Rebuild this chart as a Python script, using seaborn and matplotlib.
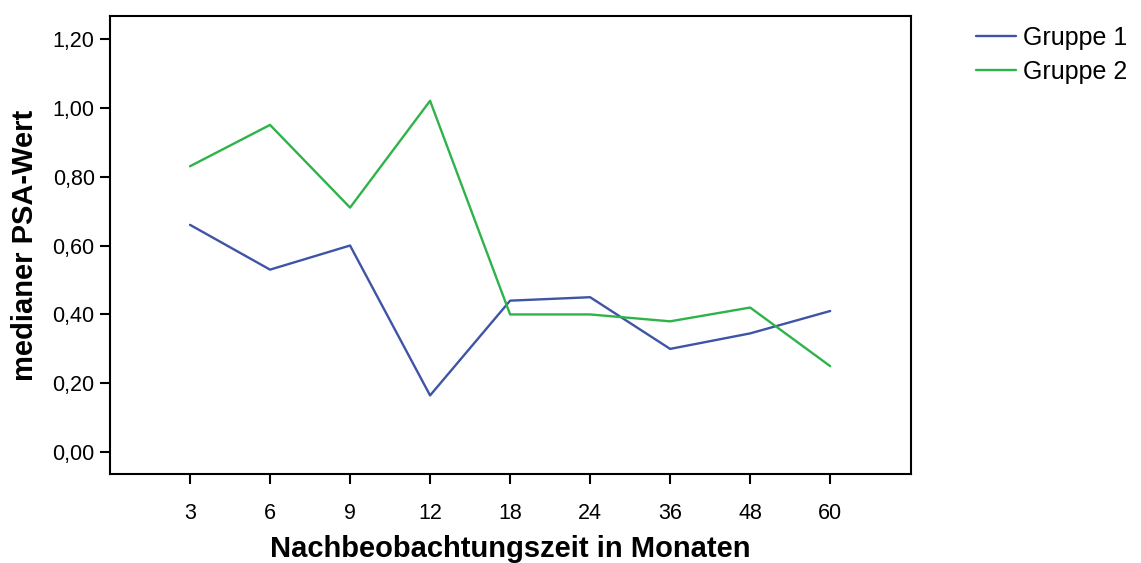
import matplotlib
matplotlib.use('Agg')
import matplotlib.pyplot as plt
import seaborn as sns
import pandas as pd

# Data
monate = ['3', '6', '9', '12', '18', '24', '36', '48', '60']
gruppe1 = [0.66, 0.53, 0.60, 0.165, 0.44, 0.45, 0.30, 0.345, 0.41]
gruppe2 = [0.83, 0.95, 0.71, 1.02, 0.40, 0.40, 0.38, 0.42, 0.25]

df = pd.DataFrame({
    'Monat': monate * 2,
    'Wert': gruppe1 + gruppe2,
    'Gruppe': ['Gruppe 1'] * len(monate) + ['Gruppe 2'] * len(monate),
})

sns.set_style('white')
plt.rcParams['font.family'] = ['Liberation Sans', 'DejaVu Sans']
plt.rcParams['text.color'] = 'black'
plt.rcParams['axes.labelcolor'] = 'black'

fig = plt.figure(figsize=(11.41, 5.63), dpi=100)
ax = fig.add_axes([110 / 1141, 1 - 474 / 563, (911 - 110) / 1141, (474 - 16) / 563])

sns.lineplot(data=df, x='Monat', y='Wert', hue='Gruppe', sort=False,
             palette={'Gruppe 1': '#3e54a6', 'Gruppe 2': '#2db34a'},
             linewidth=1.7, ax=ax)

ax.set_xlim(-1, 9.01)
ax.set_ylim(-0.063, 1.266)
yt = [0, 0.2, 0.4, 0.6, 0.8, 1.0, 1.2]
ax.set_yticks(yt)
ax.set_yticklabels([f'{v:.2f}'.replace('.', ',') for v in yt])

for s in ax.spines.values():
    s.set_color('black')
    s.set_linewidth(1.5)
ax.tick_params(axis='both', direction='out', length=7, width=1.5, color='black',
               labelsize=15.5, labelcolor='black', left=True, bottom=True)
ax.tick_params(axis='y', pad=4)
ax.tick_params(axis='x', pad=14)

ax.set_xlabel('Nachbeobachtungszeit in Monaten', fontsize=21, fontweight='bold', labelpad=8)
ax.set_ylabel('medianer PSA-Wert', fontsize=21, fontweight='bold', labelpad=10)

leg = ax.legend(loc='upper left', bbox_to_anchor=(1.053, 1.027), frameon=False,
                fontsize=18, handlelength=1.6, handletextpad=0.3, labelspacing=0.4)

plt.savefig('out.png', dpi=100)
